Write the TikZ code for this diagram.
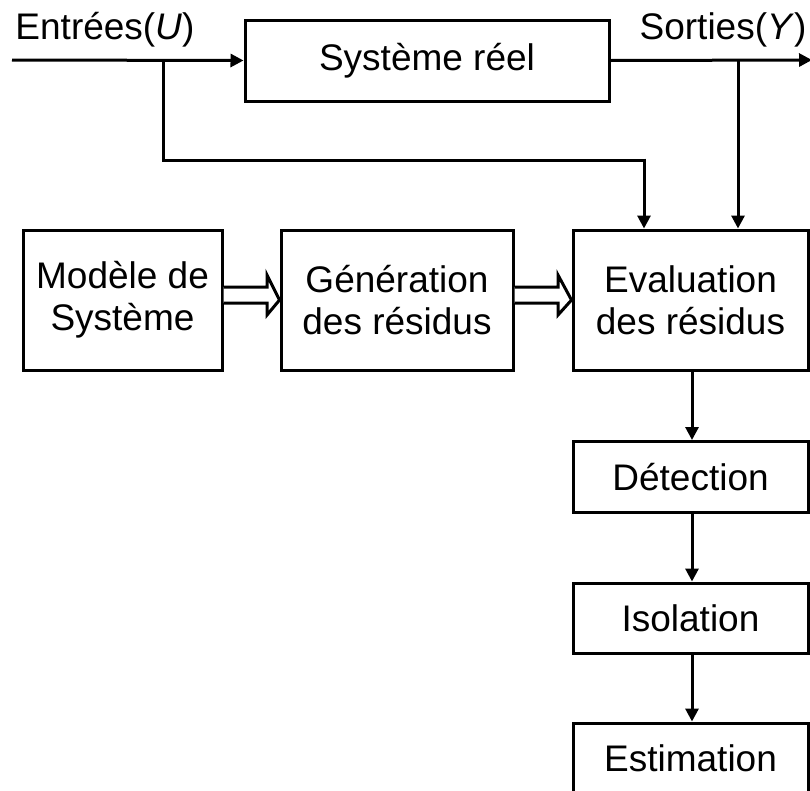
\documentclass[tikz,border=0pt]{standalone}
\usepackage{fontspec}
\setmainfont{Liberation Sans}
\usetikzlibrary{arrows.meta,calc}
\begin{document}
\begin{tikzpicture}[x=1pt,y=-1pt,
  every node/.style={font=\fontsize{37}{42}\selectfont},
  blk/.style={draw,line width=3pt,rectangle,inner sep=0pt,align=center},
  conn/.style={line width=3pt,-{Triangle[length=13pt,width=13pt]}},
  wire/.style={line width=3pt},
  hollow/.style={line width=3pt,fill=white,line join=miter}]
\useasboundingbox (0,0) rectangle (810,790);
\node[blk,minimum width=364pt,minimum height=81pt] (sys) at (427,60.5) {Système réel};
\node[blk,minimum width=199pt,minimum height=140pt] (mod) at (122.5,300) {Modèle de\\Système};
\node[blk,minimum width=232pt,minimum height=140pt] (gen) at (397,300) {Génération\\des résidus};
\node[blk,minimum width=235pt,minimum height=140pt] (eva) at (690.5,300) {Evaluation\\des résidus};
\node[blk,minimum width=235pt,minimum height=71pt] (det) at (690.5,477) {Détection};
\node[blk,minimum width=235pt,minimum height=70pt] (iso) at (690.5,618) {Isolation};
\node[blk,minimum width=235pt,minimum height=71pt] (est) at (690.5,758.5) {Estimation};
\node (lu) at (105,30) {Entrées(\textit{U})};
\node (ly) at (723,30) {Sorties(\textit{Y})};
\coordinate (in) at (12,60);
\coordinate (out) at (812,60);
\coordinate (bu) at (163,60);
\coordinate (by) at (738,60);
% input / output
\draw[conn] (in) -- (sys.west);
\draw[conn] (sys.east) -- (out);
\draw[wire] (bu) -- (163,160) -- (644,160);
\draw[conn] (644,158.5) -- (eva.north -| 644,0);
\draw[conn] (by) -- (eva.north -| by);
% hollow arrows
\draw[hollow] (mod.east |- 0,287) -- (267,287) -- (267,275) -- (gen.west) -- (267,315) -- (267,303) -- (mod.east |- 0,303);
\draw[hollow] (gen.east |- 0,287) -- (558,287) -- (558,275) -- (eva.west) -- (558,315) -- (558,303) -- (gen.east |- 0,303);
% vertical chain
\draw[conn] (eva.south -| 692,0) -- (det.north -| 692,0);
\draw[conn] (det.south -| 692,0) -- (iso.north -| 692,0);
\draw[conn] (iso.south -| 692,0) -- (est.north -| 692,0);
\end{tikzpicture}
\end{document}
